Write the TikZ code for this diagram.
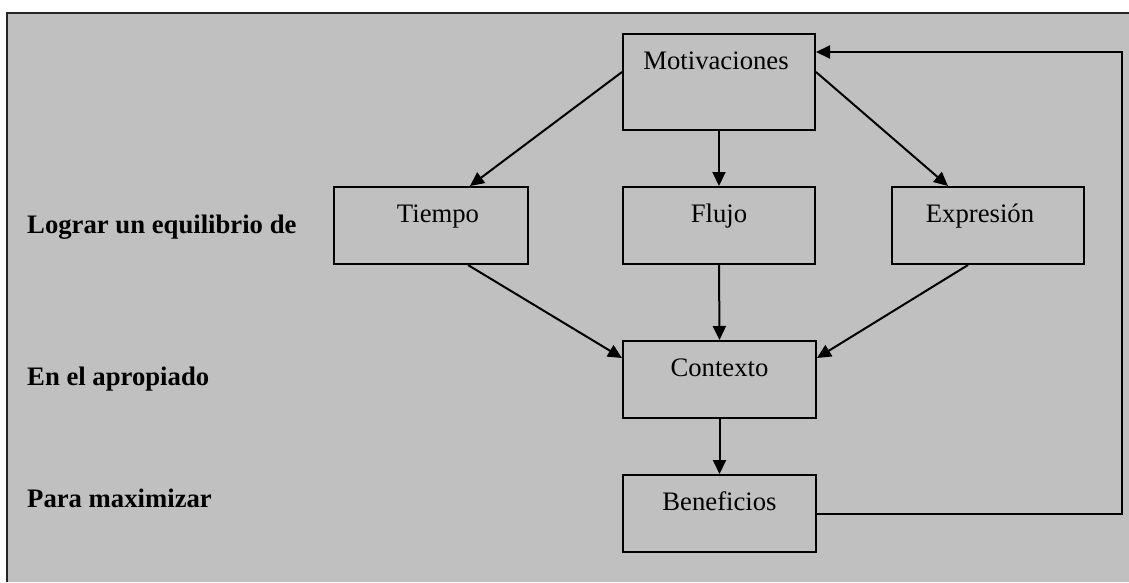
\documentclass[tikz,border=0pt]{standalone}
\usepackage{fontspec}
\setmainfont{Liberation Serif}
\usetikzlibrary{arrows.meta}
\definecolor{panelgray}{RGB}{192,192,192}
\begin{document}
\begin{tikzpicture}[x=1pt,y=-1pt,
  box/.style={draw=black,line width=2pt,fill=panelgray,anchor=north west,
    inner sep=0pt,minimum width=#1},
  box/.default=192pt,
  smallbox/.style={box,minimum height=77pt},
  txt/.style={anchor=base,inner sep=0pt,font=\fontsize{26.7}{32}\selectfont},
  side/.style={anchor=base west,inner sep=0pt,font=\fontsize{26.7}{32}\selectfont\bfseries},
  flow/.style={draw=black,line width=2pt,-{Triangle[length=14pt,width=13pt]}}]
  \useasboundingbox (0,0) rectangle (1129,582);
  % grey panel with its frame on the left and top
  \fill[panelgray] (7,13) rectangle (1129,582);
  \draw[line width=1.6pt,color=black!85] (7,582) -- (7,13) -- (1129,13);

  % boxes
  \node[box,minimum height=96pt] (mot) at (622,33) {};
  \node[smallbox,minimum width=194pt] (tie) at (333,186) {};
  \node[smallbox] (flu) at (622,186) {};
  \node[smallbox] (exp) at (891,186) {};
  \node[smallbox,minimum width=193pt] (ctx) at (622,340) {};
  \node[smallbox,minimum width=193pt] (ben) at (622,474) {};

  % box labels
  \node[txt] (tmot) at ([xshift=-3pt,yshift=-36pt]mot.north) {Motivaciones};
  \node[txt] (ttie) at ([xshift=7pt,yshift=-36pt]tie.north) {Tiempo};
  \node[txt] (tflu) at ([yshift=-36pt]flu.north) {Flujo};
  \node[txt] (texp) at ([xshift=-8pt,yshift=-36pt]exp.north) {Expresión};
  \node[txt] (tctx) at ([yshift=-36pt]ctx.north) {Contexto};
  \node[txt] (tben) at ([yshift=-36pt]ben.north) {Beneficios};

  % row captions
  \node[side] (l1) at (27,233) {Lograr un equilibrio de};
  \node[side] (l2) at (27,385) {En el apropiado};
  \node[side] (l3) at (27,507) {Para maximizar};

  % connectors
  \draw[flow] ([yshift=-39pt]mot.north west) -- ([xshift=137pt]tie.north west);
  \draw[flow] (mot.south) -- (flu.north);
  \draw[flow] ([yshift=-39pt]mot.north east) -- ([xshift=57pt]exp.north west);
  \draw[flow] ([xshift=135pt]tie.south west) -- ([yshift=-18pt]ctx.north west);
  \draw[flow] (flu.south) -- (ctx.north);
  \draw[flow] ([xshift=77pt]exp.south west) -- ([yshift=-18pt]ctx.north east);
  \draw[flow] (ctx.south) -- (ben.north);

  % feedback loop back to the top
  \coordinate (corner) at (1122,52);
  \draw[flow] (ben.east) -| (corner) -- ([yshift=-19pt]mot.north east);
\end{tikzpicture}
\end{document}
